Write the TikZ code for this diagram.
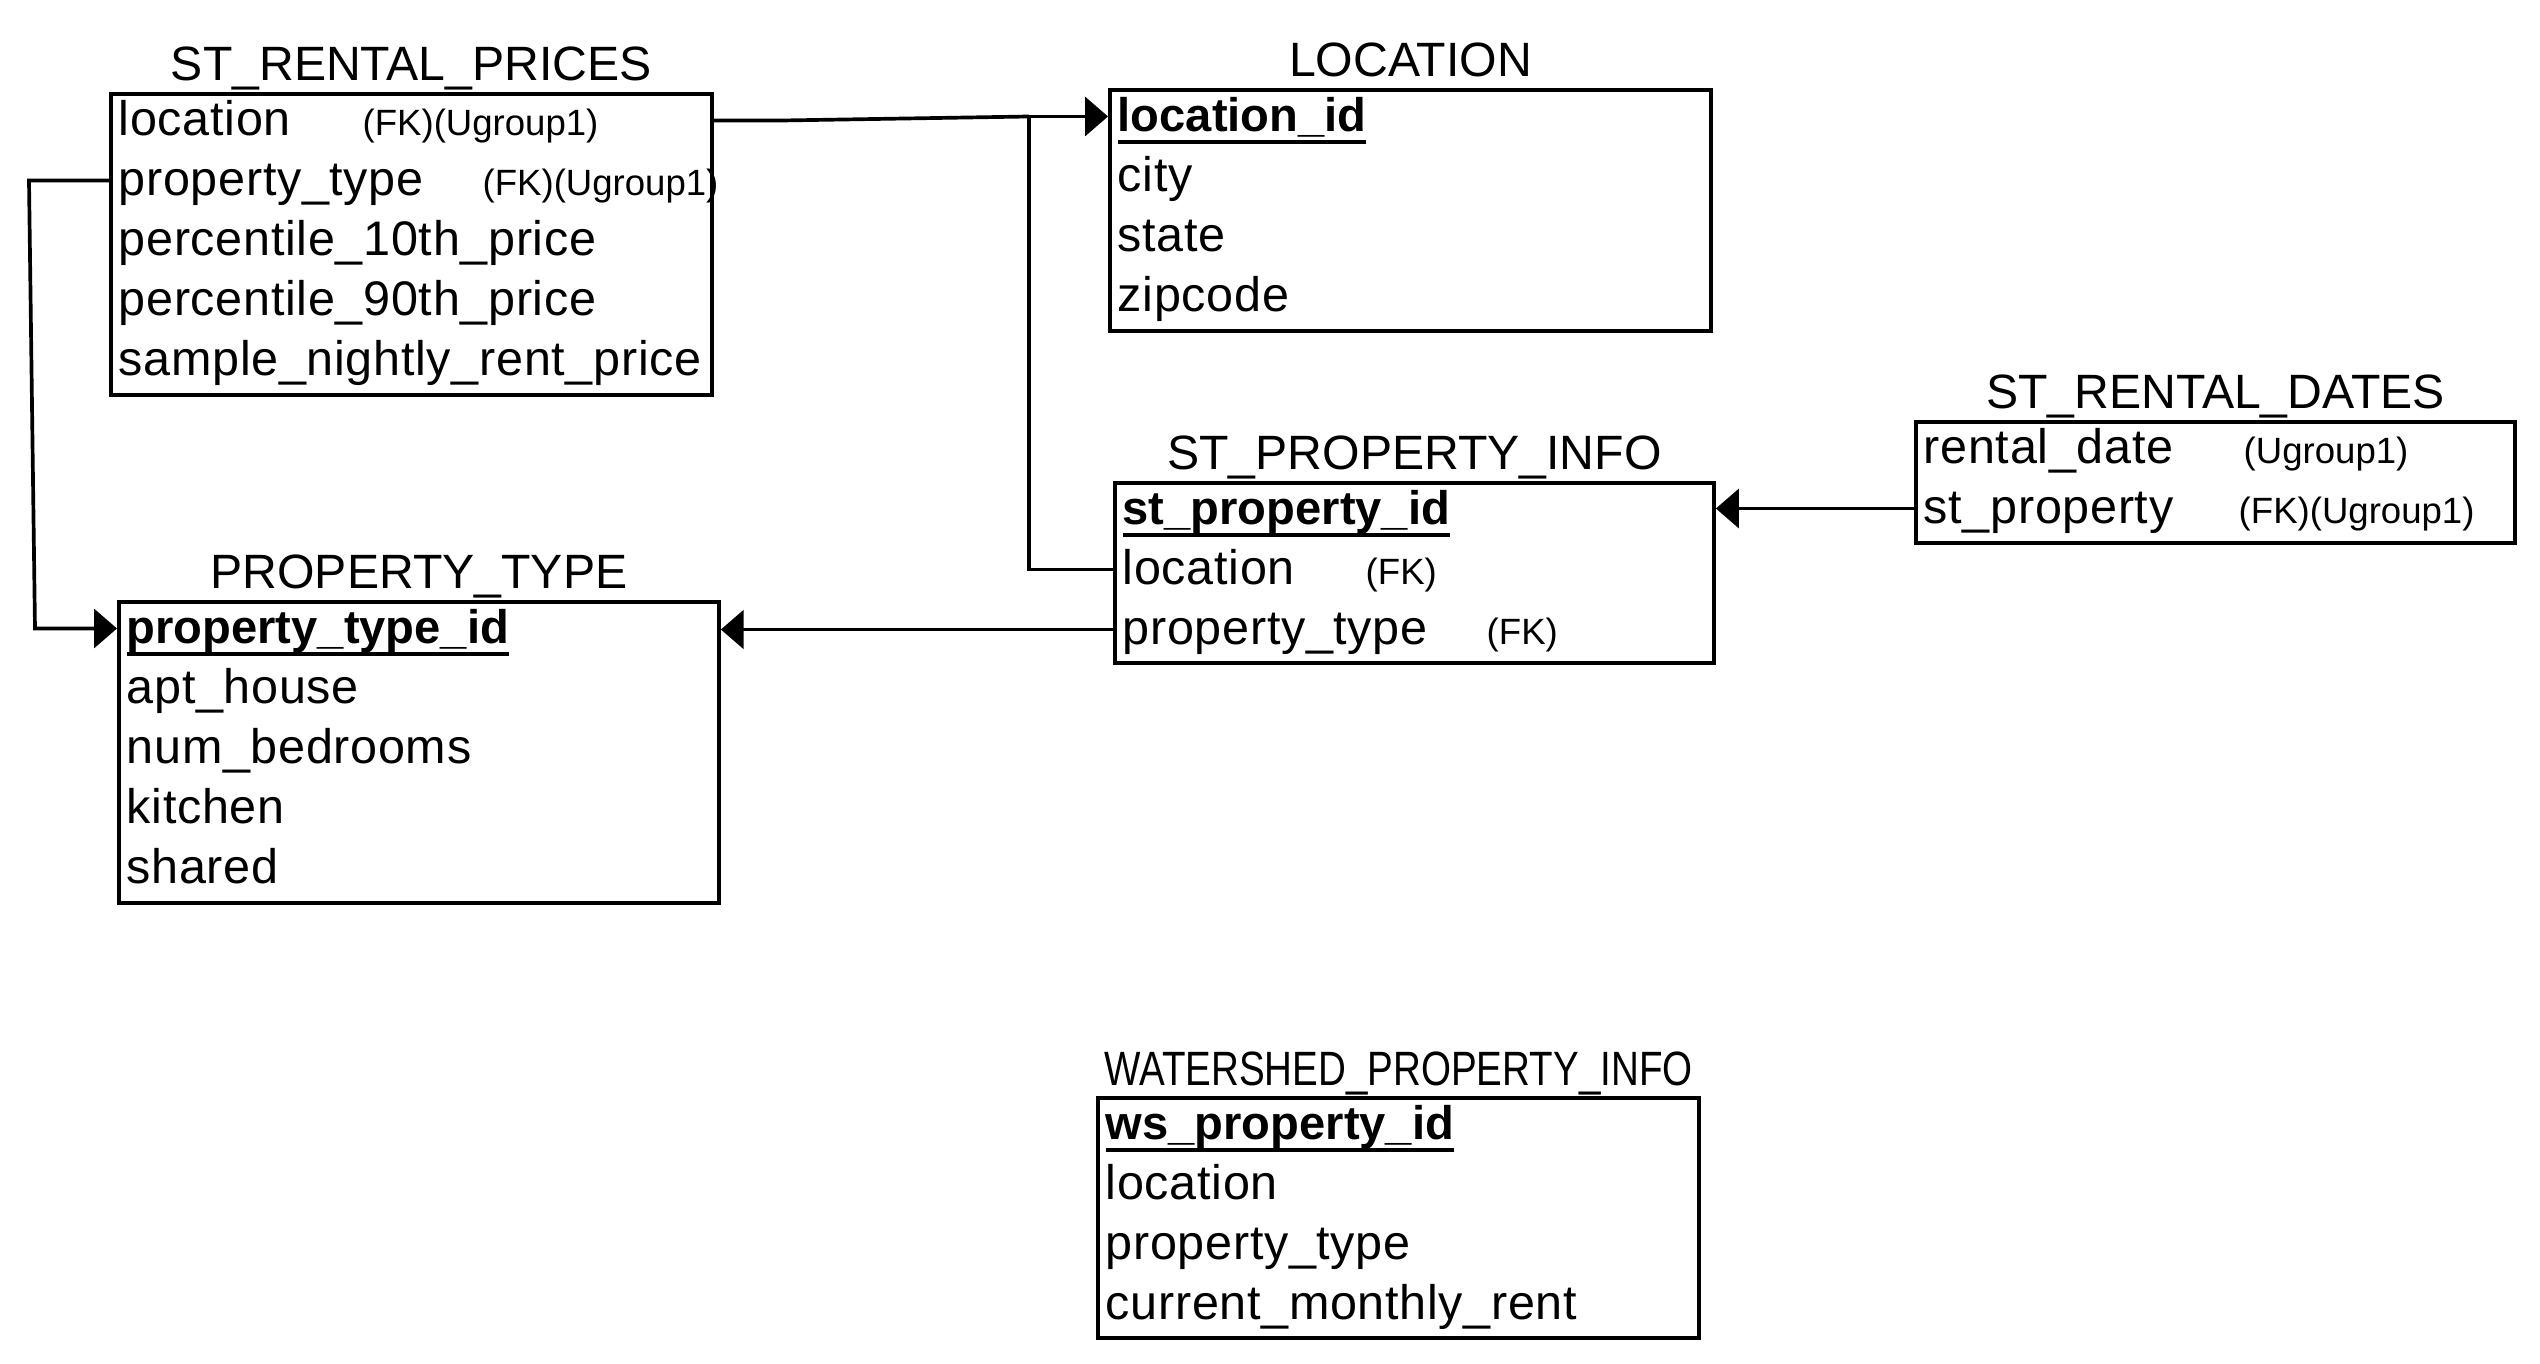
\documentclass[tikz,border=0pt]{standalone}
\usepackage{fontspec}
\setmainfont{Liberation Sans}
\newfontfamily\spacedsans[LetterSpace=1.4]{Liberation Sans}
\usetikzlibrary{arrows.meta,calc}
\def\rowfont{\spacedsans\fontsize{13.8}{16}\selectfont}
\def\titlefont{\fontsize{13.7}{16}\selectfont}
\def\fkfont{\fontsize{10.4}{12}\selectfont}
\def\pkcol#1{\setbox0\hbox{\normalfont\fontsize{13.4}{16}\selectfont\bfseries #1}\rlap{\usebox0}\rule[-3.6pt]{\wd0}{1.1pt}}
\tikzset{
	tblbox/.style={draw, line width=1pt, anchor=north west, inner sep=0pt, minimum width=6cm},
	tbltitle/.style={anchor=base, inner sep=0pt, font=\titlefont},
	field/.style={anchor=west, inner sep=0pt, text height=11pt, text depth=2.7pt, font=\rowfont},
	fknote/.style={field, font=\fkfont},
	link/.style={line width=1.05pt},
	relarrow/.style={-{Triangle[length=6.5pt,width=11pt]}}
}

\begin{document}
\begin{tikzpicture}[x=0.01cm, y=-0.01cm]
			%%%%% START %%%%%
			\useasboundingbox (0,0) rectangle (2540,1364);
			
			\node[tblbox, minimum width=6.01cm, minimum height=3.01cm] (srp) at (109,92) {};
			\node[tbltitle] (srp-title) at ([yshift=0.11cm]srp.north) {ST\_RENTAL\_PRICES};
			\node[field] (srp-loc) at (118,120.5) {location};
			\node[fknote] (srp-loc-fk) at (362,120.5) {(FK)(Ugroup1)};
			\node[field] (srp-pt) at (118,180.5) {property\_type};
			\node[fknote] (srp-pt-fk) at (482,180.5) {(FK)(Ugroup1)};
			\node[field] (srp-p10) at (118,240.5) {percentile\_10th\_price};
			\node[field] (srp-p90) at (118,300.5) {percentile\_90th\_price};
			\node[field] (srp-rent) at (118,360.5) {sample\_nightly\_rent\_price};
			
			\node[tblbox, minimum width=6.01cm, minimum height=2.41cm] (loc) at (1108,88) {};
			\node[tbltitle] (loc-title) at ([yshift=0.11cm]loc.north) {LOCATION};
			\node[field] (loc-id) at (1117,116.5) {\pkcol{location\_id}};
			\node[field] (loc-city) at (1117,176.5) {city};
			\node[field] (loc-state) at (1117,236.5) {state};
			\node[field] (loc-zip) at (1117,296.5) {zipcode};
			
			\node[tblbox, minimum width=5.99cm, minimum height=1.8cm] (spi) at (1113,481) {};
			\node[tbltitle] (spi-title) at ([yshift=0.11cm]spi.north) {ST\_PROPERTY\_INFO};
			\node[field] (spi-id) at (1122,509.5) {\pkcol{st\_property\_id}};
			\node[field] (spi-loc) at (1122,569.5) {location};
			\node[fknote] (spi-loc-fk) at (1365,569.5) {(FK)};
			\node[field] (spi-pt) at (1122,629.5) {property\_type};
			\node[fknote] (spi-pt-fk) at (1486,629.5) {(FK)};
			
			\node[tblbox, minimum width=5.99cm, minimum height=1.21cm] (srd) at (1914,420) {};
			\node[tbltitle] (srd-title) at ([yshift=0.11cm]srd.north) {ST\_RENTAL\_DATES};
			\node[field] (srd-date) at (1923,448.5) {rental\_date};
			\node[fknote] (srd-date-fk) at (2243,448.5) {(Ugroup1)};
			\node[field] (srd-stp) at (1923,508.5) {st\_property};
			\node[fknote] (srd-stp-fk) at (2238,508.5) {(FK)(Ugroup1)};
			
			\node[tblbox, minimum height=3.01cm] (pt) at (117,600) {};
			\node[tbltitle] (pt-title) at ([yshift=0.11cm]pt.north) {PROPERTY\_TYPE};
			\node[field] (pt-id) at (126,628.5) {\pkcol{property\_type\_id}};
			\node[field] (pt-apt) at (126,688.5) {apt\_house};
			\node[field] (pt-bed) at (126,748.5) {num\_bedrooms};
			\node[field] (pt-kit) at (126,808.5) {kitchen};
			\node[field] (pt-shr) at (126,868.5) {shared};
			
			\node[tblbox, minimum width=6.01cm, minimum height=2.4cm] (ws) at (1096,1096) {};
			\node[tbltitle] (ws-title) at ([yshift=0.11cm]ws.north) {\scalebox{0.8}[1]{WATERSHED\_PROPERTY\_INFO}};
			\node[field] (ws-id) at (1105,1124.5) {\pkcol{ws\_property\_id}};
			\node[field] (ws-loc) at (1105,1184.5) {location};
			\node[field] (ws-pt) at (1105,1244.5) {property\_type};
			\node[field] (ws-rent) at (1105,1304.5) {current\_monthly\_rent};
			
			\coordinate (bend) at (782,120.5);
			\coordinate (split) at (1029,116.5);
			\coordinate (left-top) at (29,180.5);
			\coordinate (left-bot) at (35,628.5);
			
			\draw[link] (srp.east |- srp-loc) -- (bend) -- (split);
			\draw[link, relarrow] (split) -- (loc.west |- loc-id);
			\draw[link] (spi.west |- spi-loc) -| (split);
			\draw[link, relarrow] (srp.west |- srp-pt) -- (left-top) -- (left-bot) -- (pt.west |- pt-id);
			\draw[link, relarrow] (spi.west |- spi-pt) -- (spi-pt -| pt.east);
			\draw[link, relarrow] (srd.west |- srd-stp) -- (srd-stp -| spi.east);
			
			%%%%% END %%%%%
\end{tikzpicture}
\end{document}
